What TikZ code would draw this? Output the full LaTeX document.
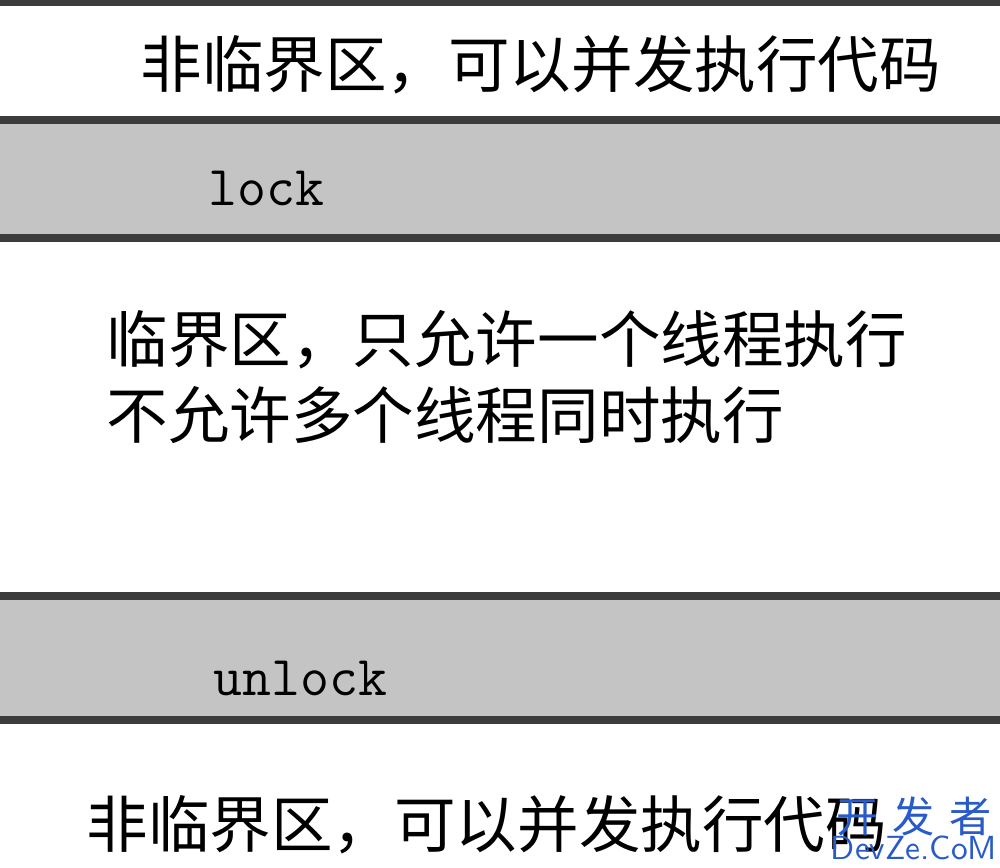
\documentclass[tikz,border=0pt]{standalone}
\usepackage{fontspec}
\newfontfamily\cjk{Noto Sans CJK SC}
\usetikzlibrary{positioning}
\definecolor{bandgray}{RGB}{196,196,196}
\definecolor{edgegray}{RGB}{60,60,60}
\definecolor{markblue}{RGB}{40,90,200}
\tikzset{
    band/.style={fill=bandgray, draw=edgegray, line width=2.5pt},
    zhtext/.style={anchor=west, inner sep=0pt, font=\cjk\fontsize{17.5}{20}\selectfont},
    codetext/.style={anchor=west, inner sep=0pt, font=\ttfamily\fontsize{16}{18}\selectfont},
    wmtext/.style={inner sep=0pt, text=markblue}
}
\begin{document}
\begin{tikzpicture}[x=0.01cm, y=-0.01cm]
    \useasboundingbox (0,0) rectangle (1000,868);
    \fill[white] (0,0) rectangle (1000,868);
    % top edge
    \draw[edgegray, line width=2.5pt] (0,2) -- (1000,2);

    % critical section bands
    \draw[band] (-5,120) rectangle (1005,238);
    \draw[band] (-5,596) rectangle (1005,720);

    \node[zhtext] (free1) at (140,65) {非临界区，可以并发执行代码};
    \node[codetext] (lock) at (208,188) {lock};
    \node[zhtext] (crit1) at (106,340) {临界区，只允许一个线程执行};
    \node[zhtext] (crit2) at (106,415) {不允许多个线程同时执行};
    \node[codetext] (unlock) at (213,678) {unlock};
    \node[zhtext] (free2) at (86,825) {非临界区，可以并发执行代码};

    % watermark
    \node[wmtext, font=\cjk\fontsize{12}{14}\selectfont] (wmzh) at (914,816) {开\,\,发\,\,者};
    \node[wmtext, font=\sffamily\fontsize{9.5}{11}\selectfont] (wmen) at (914,848) {DevZe.CoM};
\end{tikzpicture}
\end{document}
